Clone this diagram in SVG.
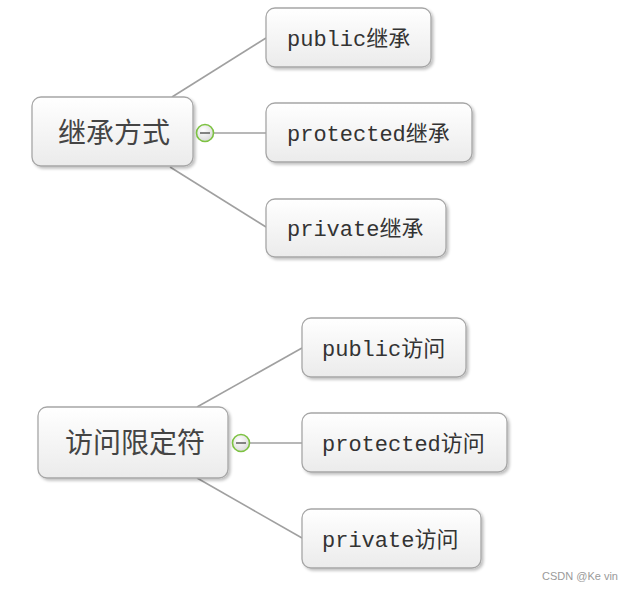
<svg xmlns="http://www.w3.org/2000/svg" width="631" height="589" viewBox="0 0 631 589">
<defs>
<linearGradient id="boxg" x1="0" y1="0" x2="0" y2="1">
<stop offset="0" stop-color="#ffffff"/>
<stop offset="1" stop-color="#ebebeb"/>
</linearGradient>
<radialGradient id="circg" cx="0.4" cy="0.35" r="0.7">
<stop offset="0" stop-color="#ffffff"/>
<stop offset="1" stop-color="#d8d8d8"/>
</radialGradient>
<filter id="sh" x="-10%" y="-10%" width="125%" height="130%">
<feGaussianBlur in="SourceAlpha" stdDeviation="1.5"/>
<feOffset dx="2" dy="2" result="b"/>
<feComponentTransfer><feFuncA type="linear" slope="0.25"/></feComponentTransfer>
<feMerge><feMergeNode/><feMergeNode in="SourceGraphic"/></feMerge>
</filter>
</defs>
<style>
.box{fill:url(#boxg);stroke:#a6a6a6;stroke-width:1.3;filter:url(#sh)}
.conn{stroke:#a0a0a0;stroke-width:1.6;fill:none}
.ct{font-family:"Liberation Mono","Noto Sans CJK SC",monospace;font-size:22px;fill:#333}
.rt{font-family:"Noto Sans CJK SC",sans-serif;font-size:28px;fill:#444}
.tog{fill:url(#circg);stroke:#7dc242;stroke-width:1.6}
.minus{stroke:#666;stroke-width:1.6}
.wm{font-family:"Liberation Sans",Arial,sans-serif;font-size:11px;fill:#9a9a9a}
</style>
<g id="connectors">
<line class="conn" x1="172" y1="97" x2="266" y2="38"/>
<line class="conn" x1="214" y1="133" x2="266" y2="133"/>
<line class="conn" x1="170" y1="167" x2="266" y2="227"/>
<line class="conn" x1="197" y1="407" x2="302" y2="348"/>
<line class="conn" x1="250" y1="443" x2="302" y2="443"/>
<line class="conn" x1="197" y1="478" x2="302" y2="538"/>
</g>
<g id="node-jicheng">
<rect class="box" x="32" y="97" width="161" height="69" rx="9"/>
<text class="rt" x="58" y="131" dominant-baseline="central">继承方式</text>
<circle class="tog" cx="205" cy="133" r="8.5"/>
<line class="minus" x1="200" y1="133" x2="210" y2="133"/>
</g>
<g id="node-public-jicheng">
<rect class="box" x="266" y="8" width="165" height="59" rx="9"/>
<text class="ct" x="287" y="46">public继承</text>
</g>
<g id="node-protected-jicheng">
<rect class="box" x="266" y="103" width="206" height="59" rx="9"/>
<text class="ct" x="287" y="141">protected继承</text>
</g>
<g id="node-private-jicheng">
<rect class="box" x="266" y="199" width="180" height="58" rx="9"/>
<text class="ct" x="287" y="236">private继承</text>
</g>
<g id="node-fangwen">
<rect class="box" x="38" y="407" width="190" height="71" rx="9"/>
<text class="rt" x="65" y="441" dominant-baseline="central">访问限定符</text>
<circle class="tog" cx="241" cy="443" r="8.5"/>
<line class="minus" x1="236" y1="443" x2="246" y2="443"/>
</g>
<g id="node-public-fangwen">
<rect class="box" x="302" y="318" width="164" height="59" rx="9"/>
<text class="ct" x="322" y="356">public访问</text>
</g>
<g id="node-protected-fangwen">
<rect class="box" x="302" y="413" width="205" height="59" rx="9"/>
<text class="ct" x="322" y="451">protected访问</text>
</g>
<g id="node-private-fangwen">
<rect class="box" x="302" y="509" width="179" height="59" rx="9"/>
<text class="ct" x="322" y="547">private访问</text>
</g>
<text class="wm" x="542" y="580">CSDN @Ke vin</text>
</svg>
